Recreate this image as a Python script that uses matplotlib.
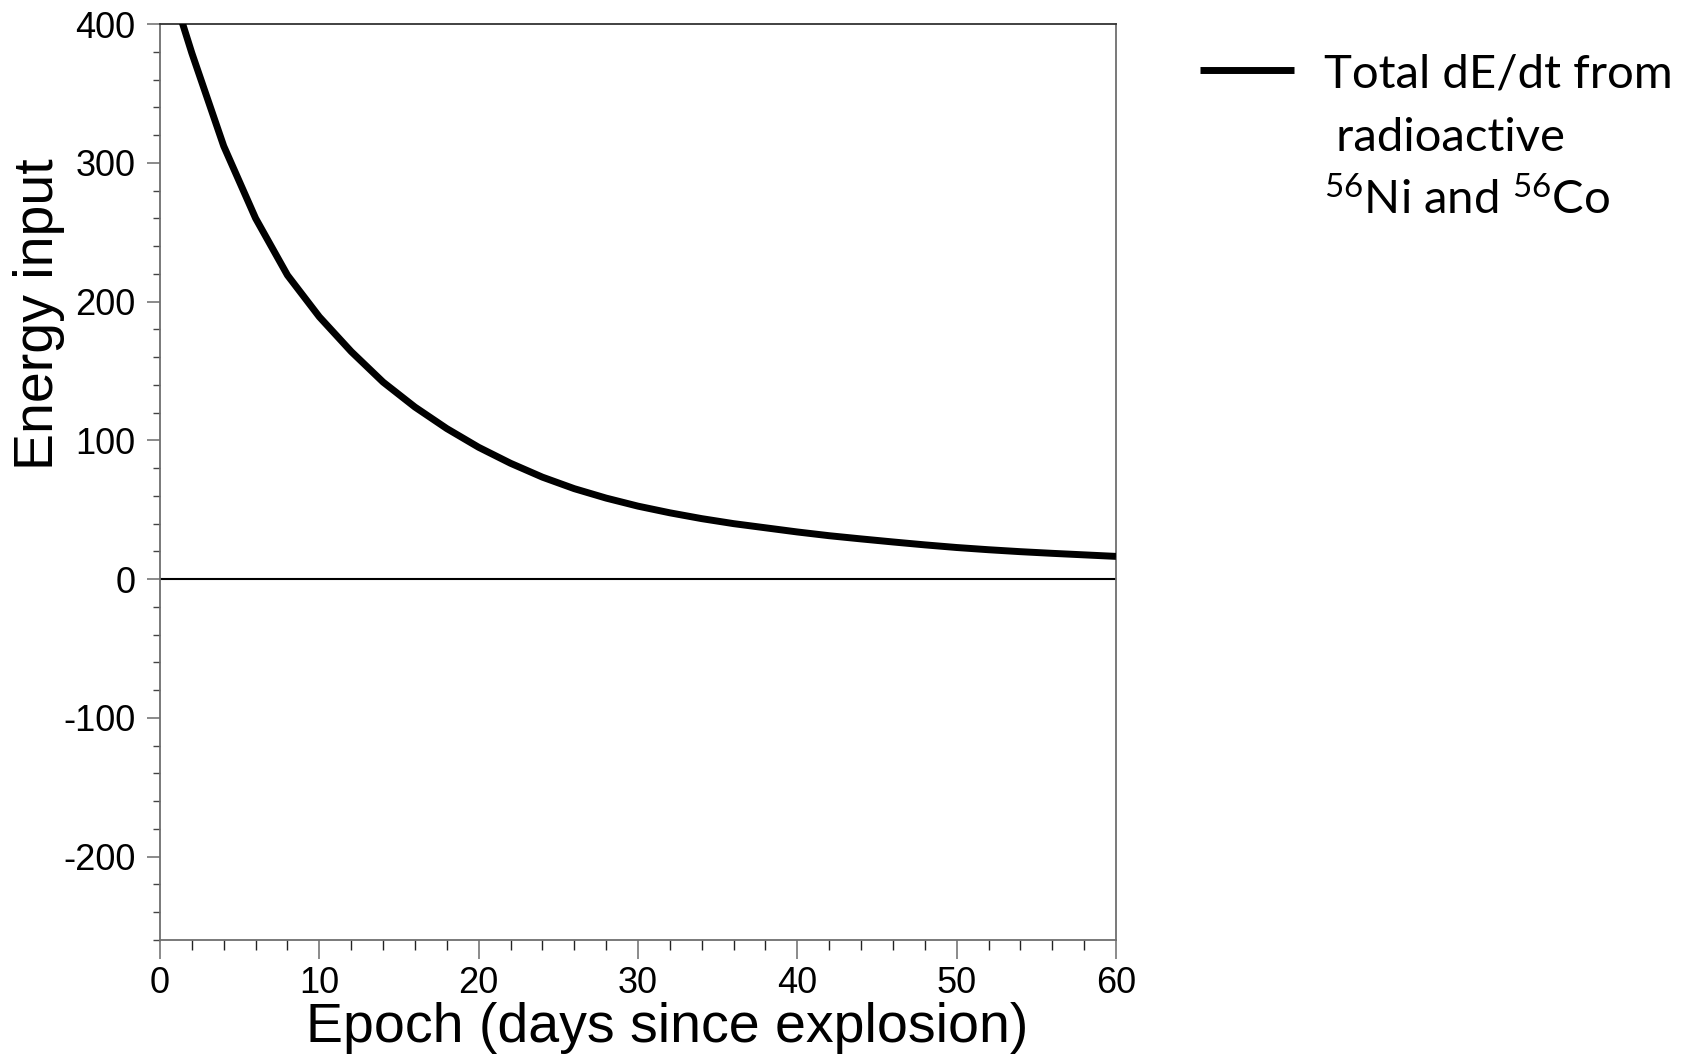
import matplotlib
matplotlib.use("Agg")
import matplotlib.pyplot as plt
from matplotlib.ticker import MultipleLocator

# ---- data ----
days = [0, 2, 4, 6, 8, 10, 12, 14, 16, 18, 20, 22, 24, 26, 28, 30,
        32, 34, 36, 38, 40, 42, 44, 46, 48, 50, 52, 54, 56, 58, 60]
energy = [452, 379, 312, 260, 219, 189, 164, 142, 124, 108.5, 95, 83.5, 73.5, 65.2, 58.4, 52.6,
          47.8, 43.6, 40, 37, 34, 31.3, 29, 26.8, 24.7, 22.8, 21.2, 19.8, 18.6, 17.5, 16.4]
legend_first_line = "Total dE/dt from"
legend_line2 = " radioactive"
legend_line3 = "$^{56}$Ni and $^{56}$Co"
x_label = "Epoch (days since explosion)"
y_label = "Energy input"
x_ticks = [0, 10, 20, 30, 40, 50, 60]
y_ticks = [-200, -100, 0, 100, 200, 300, 400]

plt.rcParams['font.family'] = ['Liberation Sans', 'DejaVu Sans']
plt.rcParams['axes.unicode_minus'] = False
plt.rcParams['mathtext.fontset'] = 'custom'
plt.rcParams['mathtext.rm'] = 'Lato'
plt.rcParams['mathtext.it'] = 'Lato'

W, H = 1683, 1056
fig = plt.figure(figsize=(W / 100, H / 100), dpi=100)
L, R, T, B = 160, 1116, 24, 940
ax = fig.add_axes([L / W, 1 - B / H, (R - L) / W, (B - T) / H])

ax.plot(days, energy, color='black', lw=5, solid_capstyle='butt',
        solid_joinstyle='round', label=legend_first_line, zorder=3)
ax.axhline(0, color='black', lw=1.5, zorder=2)

ax.set_xlim(0, 60)
ax.set_ylim(-260, 400)
ax.set_xticks(x_ticks)
ax.set_yticks(y_ticks)
ax.xaxis.set_minor_locator(MultipleLocator(2))
ax.yaxis.set_minor_locator(MultipleLocator(20))

for s in ax.spines.values():
    s.set_color('#6e6e6e')
    s.set_linewidth(1.3)
ax.spines['top'].set_color('#333333')

ax.tick_params(axis='x', which='major', length=13.5, width=1.2, color='#777777',
               labelsize=26, pad=5)
ax.tick_params(axis='x', which='minor', length=7, width=1.0, color='#222222')
ax.tick_params(axis='y', which='major', length=9.5, width=1.2, color='#777777',
               labelsize=26, pad=8)
ax.tick_params(axis='y', which='minor', length=5, width=1.0, color='#444444')

ax.set_xlabel(x_label, fontsize=40)
ax.set_ylabel(y_label, fontsize=40)
ax.xaxis.set_label_coords((667 - L) / (R - L), (B - 1002) / (B - T))
ax.yaxis.set_label_coords((65 - L) / (R - L), (B - 314) / (B - T))

leg = ax.legend(loc='upper left', bbox_to_anchor=(1200 / W, 1 - 53 / H),
                bbox_transform=fig.transFigure, frameon=False,
                prop={'family': 'Lato', 'size': 34}, handlelength=2.0,
                handletextpad=0.62, borderpad=0, borderaxespad=0)

fig.canvas.draw()
tb = leg.get_texts()[0].get_window_extent()
fig.text(tb.x0 / W, (H - 151) / H, legend_line2, family='Lato', fontsize=34,
         ha='left', va='baseline')
fig.text(tb.x0 / W, (H - 214) / H, legend_line3, family='Lato', fontsize=34,
         ha='left', va='baseline')

fig.savefig("out.png", dpi=100)
